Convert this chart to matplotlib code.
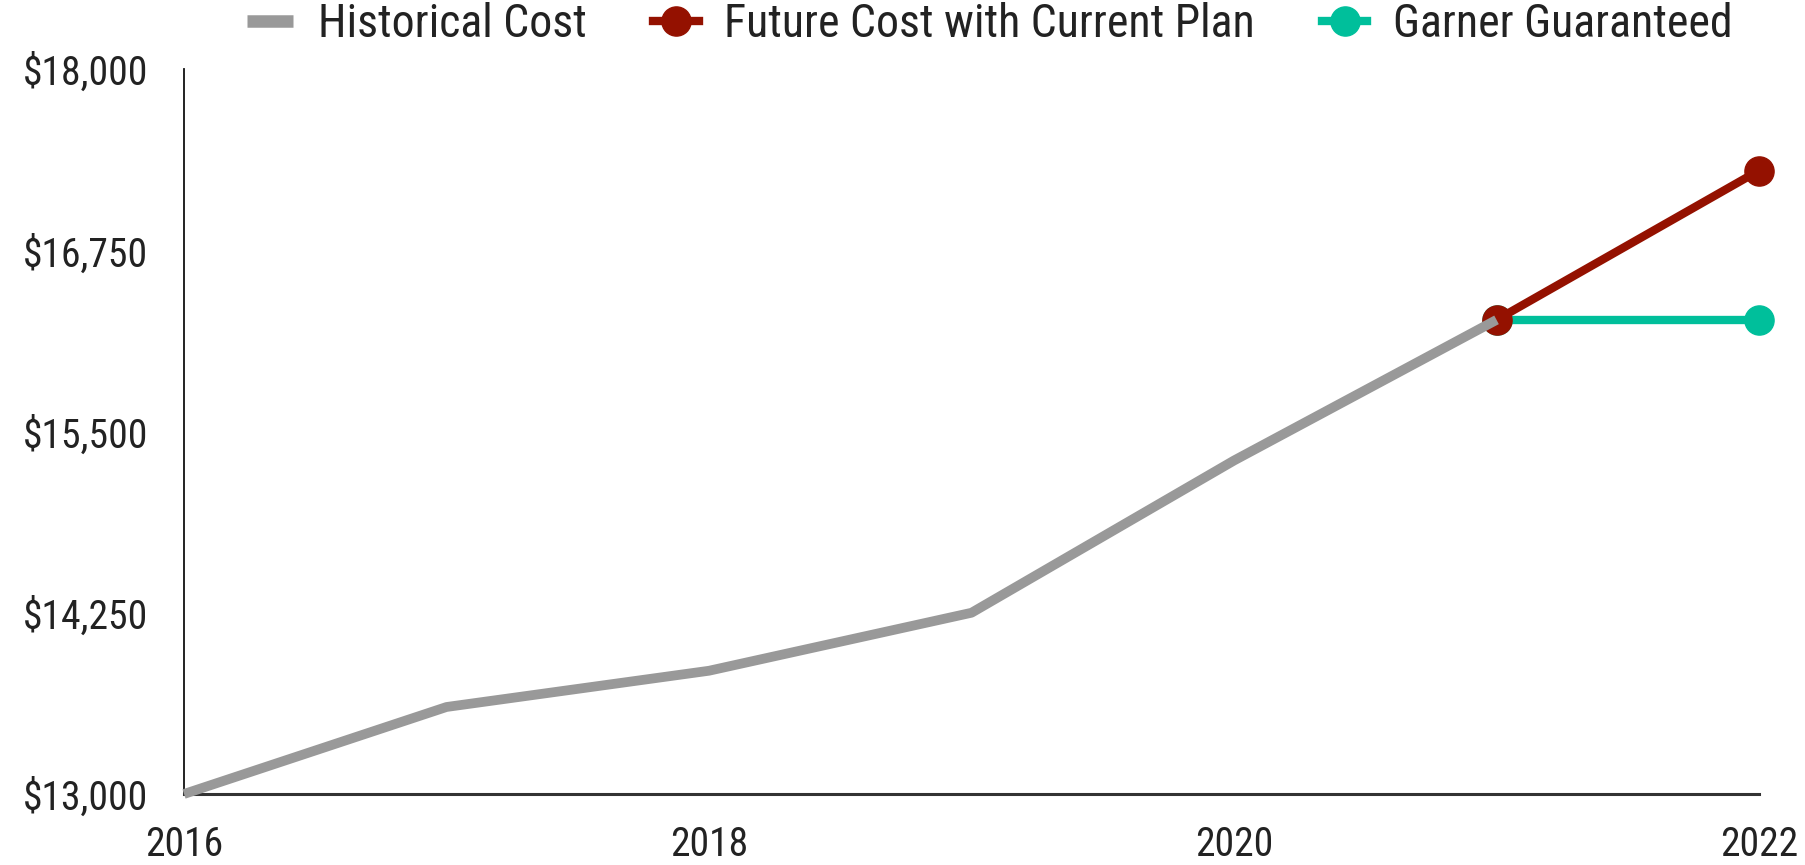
import matplotlib
matplotlib.use("Agg")
import matplotlib.pyplot as plt
from matplotlib.ticker import FuncFormatter

plt.rcParams['font.family'] = ['Roboto Condensed', 'Liberation Sans', 'DejaVu Sans']

# Data
hist_years = [2016, 2017, 2018, 2019, 2020, 2021]
hist_cost = [13000, 13600, 13850, 14250, 15300, 16270]
future_years = [2021, 2022]
future_cost = [16270, 17300]
garner_years = [2021, 2022]
garner_cost = [16270, 16270]
x_ticks = [2016, 2018, 2020, 2022]
y_ticks = [13000, 14250, 15500, 16750, 18000]

GRAY = '#999999'
RED = '#941100'
TEAL = '#00BF9B'
TEXT = '#222222'
TICK_FS = 28.5
LEG_FS = 33

fig = plt.figure(figsize=(18.06, 8.65), dpi=100)
ax = fig.add_axes([0.1019, 0.0821, 0.8721, 0.8381])

ax.plot(garner_years, garner_cost, color=TEAL, lw=6, marker='o', ms=21,
        zorder=2, clip_on=False, label='Garner Guaranteed')
ax.plot(future_years, future_cost, color=RED, lw=6, marker='o', ms=21,
        zorder=3, clip_on=False, label='Future Cost with Current Plan')
ax.plot(hist_years, hist_cost, color=GRAY, lw=7, zorder=4, clip_on=False,
        solid_capstyle='butt', label='Historical Cost')

ax.set_xlim(2016, 2022)
ax.set_ylim(13000, 18000)
ax.set_xticks(x_ticks)
ax.set_yticks(y_ticks)
ax.yaxis.set_major_formatter(FuncFormatter(lambda v, p: f"${v:,.0f}"))
ax.tick_params(axis='both', length=0, labelsize=TICK_FS, labelcolor=TEXT)
ax.tick_params(axis='x', pad=22)
ax.tick_params(axis='y', pad=26)

for s in ['top', 'right']:
    ax.spines[s].set_visible(False)
ax.spines['left'].set_color('#111111')
ax.spines['left'].set_linewidth(1.3)
ax.spines['bottom'].set_color('#333333')
ax.spines['bottom'].set_linewidth(2.2)

handles, labels = ax.get_legend_handles_labels()
order = [2, 1, 0]
leg = fig.legend([handles[i] for i in order], [labels[i] for i in order],
                 loc='center left', bbox_to_anchor=(0.114, 0.972), ncol=3,
                 frameon=False, fontsize=LEG_FS, handlelength=1.0,
                 handletextpad=0.55, columnspacing=1.45, labelcolor=TEXT)
leg.legend_handles[0].set_linewidth(9)

fig.savefig('out.png', dpi=100, facecolor='white')
